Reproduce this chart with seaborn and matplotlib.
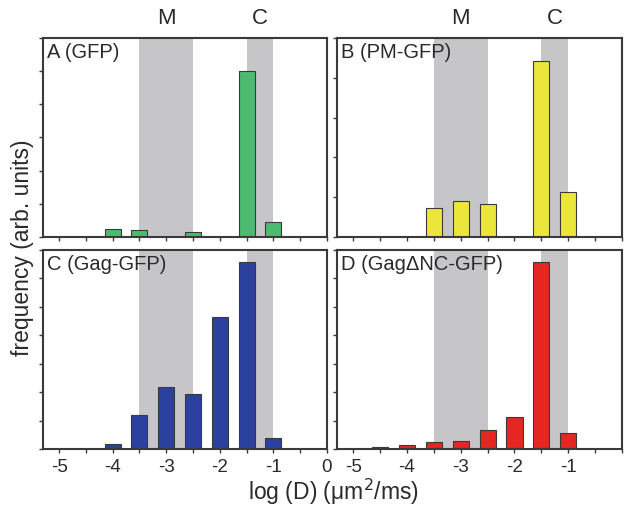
import numpy as np
import pandas as pd
import matplotlib
matplotlib.use("Agg")
import matplotlib.pyplot as plt
import matplotlib.transforms as mtransforms
from matplotlib.ticker import MultipleLocator, NullFormatter
import seaborn as sns

# bin centres of log(D) histogram
bins = [-4.5, -4.0, -3.5, -3.0, -2.5, -2.0, -1.5, -1.0]

# frequencies (arb. units)
gfp = [0.0, 0.25, 0.20, 0.0, 0.16, 0.0, 5.0, 0.44]
pm_gfp = [0.0, 0.0, 0.72, 0.91, 0.82, 0.0, 4.43, 1.14]
gag_gfp = [0.0, 0.18, 1.18, 2.17, 1.93, 4.63, 6.59, 0.40]
gag_dnc = [0.06, 0.13, 0.23, 0.27, 0.67, 1.12, 6.59, 0.57]

labels = ["A (GFP)", "B (PM-GFP)", "C (Gag-GFP)", "D (Gag\u0394NC-GFP)"]
colors = ["#4dbb6f", "#ece63c", "#2a41a0", "#e62620"]
ymax = [6, 5, 7, 7]

# shaded regions: mobile (M) and cytoplasmic (C)
band_m = (-3.5, -2.5)
band_c = (-1.5, -1.0)

sns.set_style("ticks")
plt.rcParams["font.family"] = ["Liberation Sans", "DejaVu Sans"]

fig = plt.figure(figsize=(6.24, 5.16), dpi=100)
pos = [
    [43 / 624, 1 - 237 / 516, 284 / 624, 199 / 516],
    [337 / 624, 1 - 237 / 516, 285 / 624, 199 / 516],
    [43 / 624, 1 - 449 / 516, 284 / 624, 199 / 516],
    [337 / 624, 1 - 449 / 516, 285 / 624, 199 / 516],
]
series = [gfp, pm_gfp, gag_gfp, gag_dnc]
frame = "#3a3a3a"
txt = "#2a2a2a"

for i, vals in enumerate(series):
    ax = fig.add_axes(pos[i])
    df = pd.DataFrame({"logD": bins, "freq": vals})
    df = df[df["freq"] > 0]
    ax.axvspan(*band_m, color="#c6c6c8", lw=0, zorder=0)
    ax.axvspan(*band_c, color="#c6c6c8", lw=0, zorder=0)
    sns.barplot(data=df, x="logD", y="freq", native_scale=True, width=0.6,
                color=colors[i], saturation=1, edgecolor="#3a3a3a",
                linewidth=0.8, ax=ax, zorder=2)
    ax.set_xlim(-5.3, 0)
    ax.set_ylim(0, ymax[i])
    ax.set_xlabel("")
    ax.set_ylabel("")
    ax.yaxis.set_major_locator(MultipleLocator(1))
    ax.yaxis.set_major_formatter(NullFormatter())
    if i < 2:
        ax.set_xticks([-5, -4, -3, -2, -1, 0])
        ax.set_xticklabels([])
    elif i == 2:
        ax.set_xticks([-5, -4, -3, -2, -1, 0])
        ax.set_xticklabels(["-5", "-4", "-3", "-2", "-1", "0"], fontsize=13.5,
                           color=txt)
    else:
        ax.set_xticks([-5, -4, -3, -2, -1])
        ax.set_xticklabels(["-5", "-4", "-3", "-2", "-1"], fontsize=13.5,
                           color=txt)
    ax.xaxis.set_minor_locator(MultipleLocator(0.5))
    ax.tick_params(axis="both", which="both", direction="out", color=frame,
                   length=3, width=1, pad=4)
    for s in ax.spines.values():
        s.set_visible(True)
        s.set_color(frame)
        s.set_linewidth(1.5)
    ax.text(0.015, 0.975, labels[i], transform=ax.transAxes, ha="left",
            va="top", fontsize=14.5, color=txt, zorder=3)
    if i < 2:
        trans = mtransforms.blended_transform_factory(ax.transData, ax.transAxes)
        ax.text(-3.0, 1.045, "M", transform=trans, ha="center", va="bottom",
                fontsize=16, color=txt)
        ax.text(-1.25, 1.045, "C", transform=trans, ha="center", va="bottom",
                fontsize=16, color=txt)

fig.text(0.036, 0.52, "frequency (arb. units)", rotation=90, ha="center",
         va="center", fontsize=16.5, color=txt)
fig.text(0.534, 0.047, "log (D) (\u03bcm$^2$/ms)", ha="center", va="center",
         fontsize=16.5, color=txt)

fig.savefig("out.png", dpi=100)
